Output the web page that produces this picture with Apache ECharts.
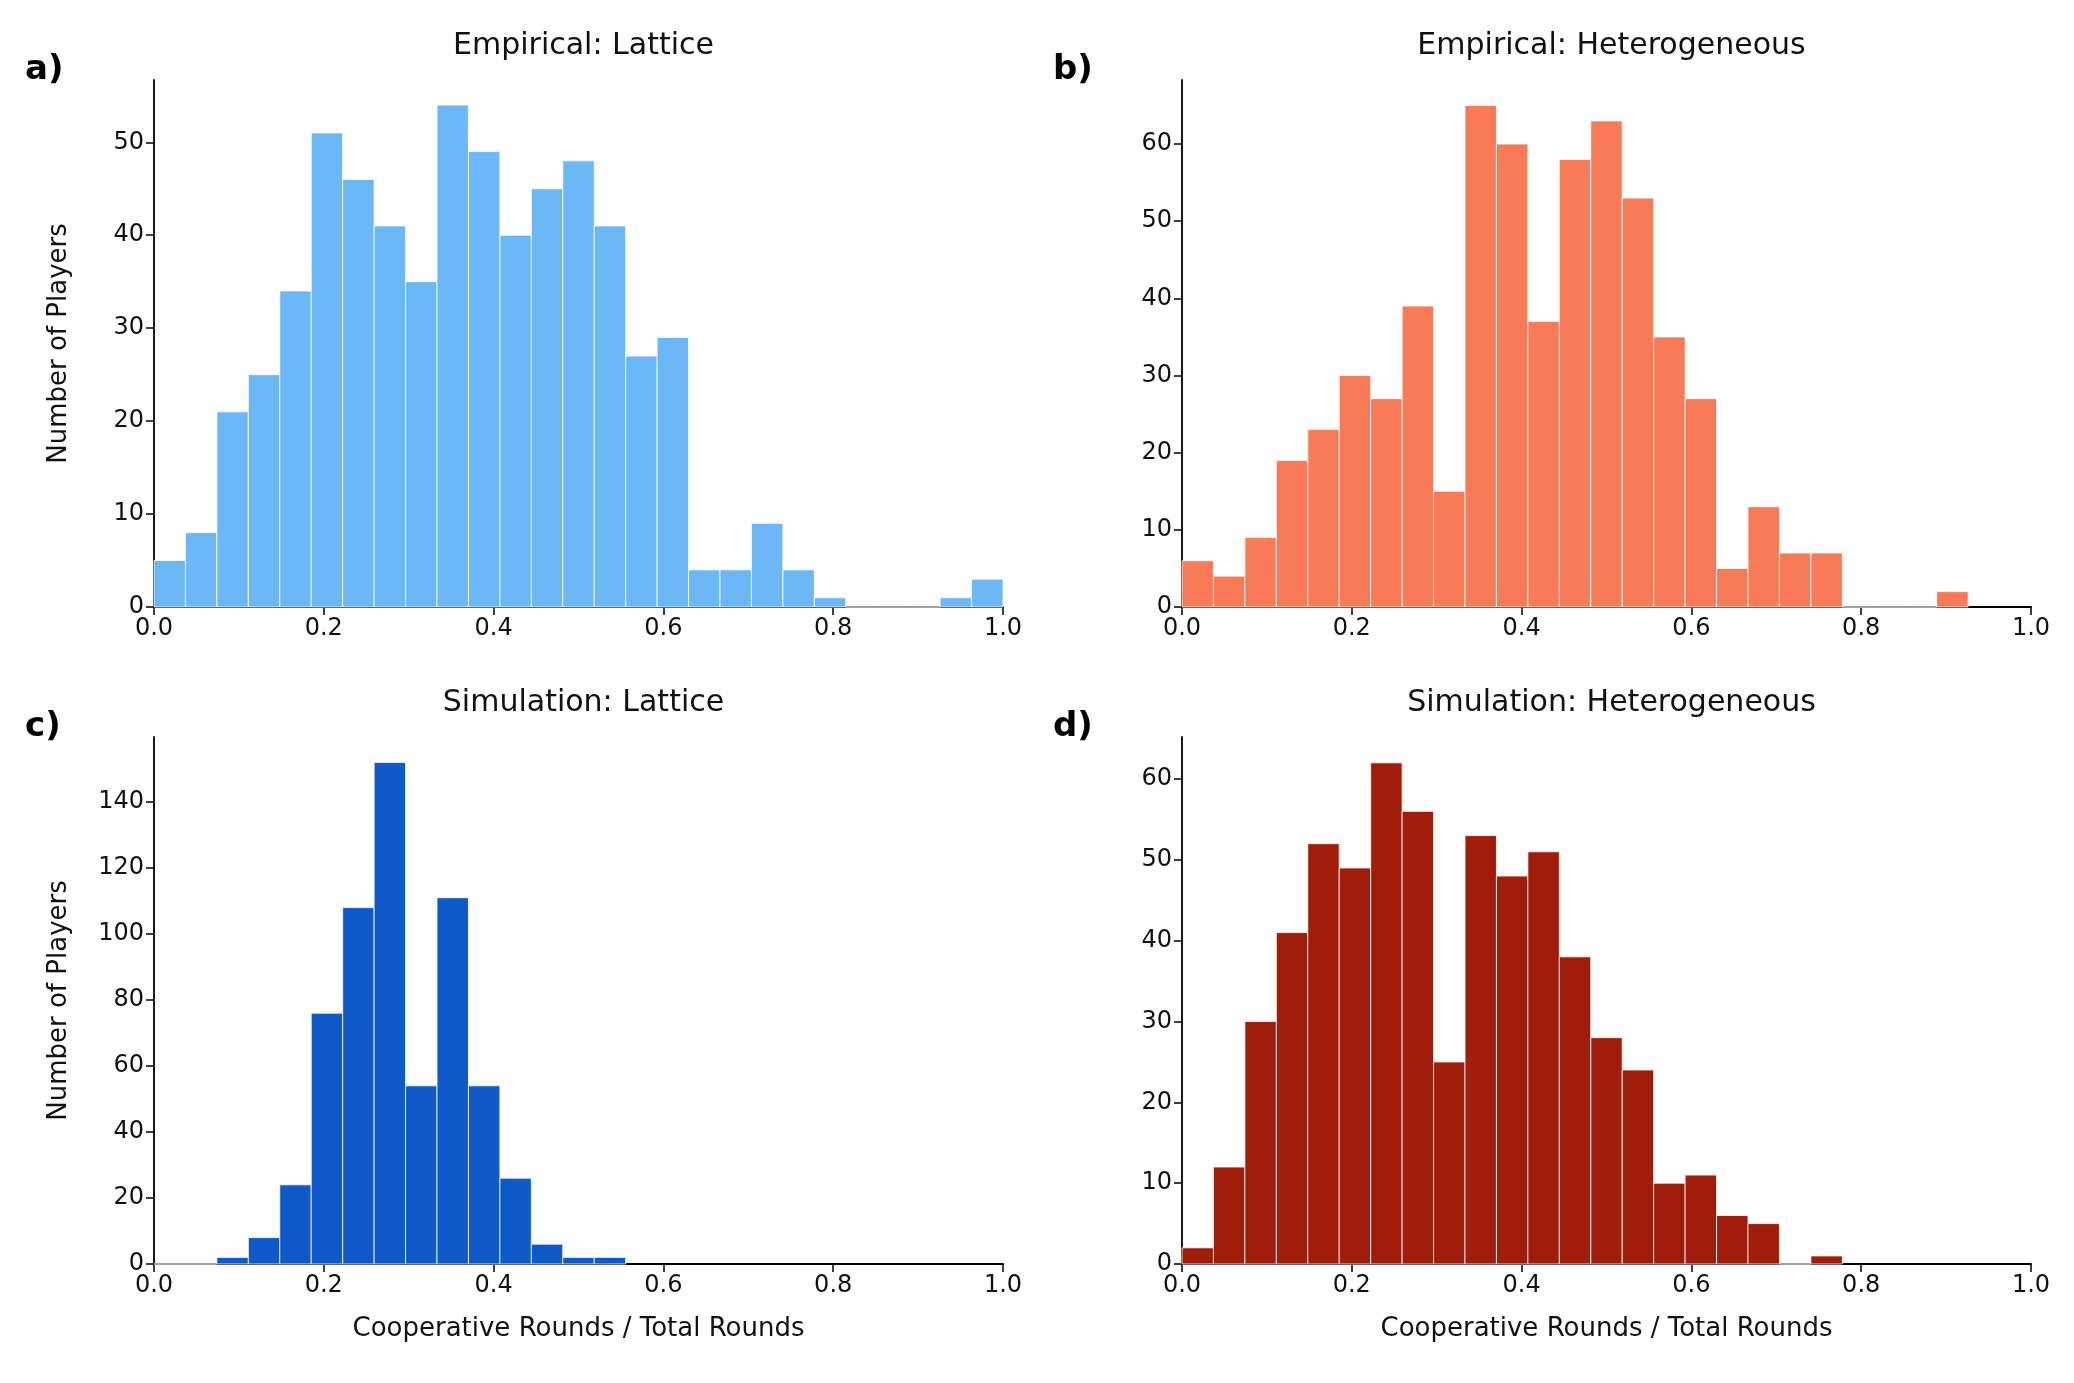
<!DOCTYPE html>
<html><head><meta charset="utf-8">
<script src="https://cdn.jsdelivr.net/npm/echarts@6/dist/echarts.min.js"></script>
<style>html,body{margin:0;background:#fff}#c{width:2074px;height:1383px}</style>
</head><body><div id="c"></div>
<script>
var binWidth = 1 / 27;
var latticeEmp = [5,8,21,25,34,51,46,41,35,54,49,40,45,48,41,27,29,4,4,9,4,1,0,0,0,1,3];
var heteroEmp = [6,4,9,19,23,30,27,39,15,65,60,37,58,63,53,35,27,5,13,7,7,0,0,0,2];
var latticeSim = [0,0,2,8,24,76,108,152,54,111,54,26,6,2,2];
var heteroSim = [2,12,30,41,52,49,62,56,25,53,48,51,38,28,24,10,11,6,5,0,1];
var xTicks = [0, 0.2, 0.4, 0.6, 0.8, 1.0];

var panels = [
  {data: latticeEmp, title: 'Empirical: Lattice', letter: 'a)', color: '#6cb8f7', ymax: 56.7, step: 10, left: 154, top: 80, ylab: true, xlab: false},
  {data: heteroEmp, title: 'Empirical: Heterogeneous', letter: 'b)', color: '#f97a56', ymax: 68.3, step: 10, left: 1182, top: 80, ylab: false, xlab: false},
  {data: latticeSim, title: 'Simulation: Lattice', letter: 'c)', color: '#0f5ac8', ymax: 159.7, step: 20, left: 154, top: 737, ylab: true, xlab: true},
  {data: heteroSim, title: 'Simulation: Heterogeneous', letter: 'd)', color: '#a11d0b', ymax: 65.2, step: 10, left: 1182, top: 737, ylab: false, xlab: true}
];
var W = 849, H = 527;
var font = 'DejaVu Sans';

var grids = [], xAxes = [], yAxes = [], series = [], titles = [];
panels.forEach(function (p, i) {
  grids.push({left: p.left, top: p.top, width: W, height: H});
  xAxes.push({
    type: 'value', gridIndex: i, min: 0, max: 1, interval: 0.2,
    name: p.xlab ? 'Cooperative Rounds / Total Rounds' : '', nameLocation: 'middle', nameGap: 52,
    nameTextStyle: {fontFamily: font, fontSize: 26, color: '#111'},
    axisLine: {lineStyle: {color: '#000', width: 1.8}},
    axisTick: {length: 8, lineStyle: {color: '#000', width: 1.5}},
    axisLabel: {fontFamily: font, fontSize: 24, color: '#111', margin: 10, formatter: function (v) { return v.toFixed(1); }},
    splitLine: {show: false}
  });
  yAxes.push({
    type: 'value', gridIndex: i, min: 0, max: p.ymax, interval: p.step,
    name: p.ylab ? 'Number of Players' : '', nameLocation: 'middle', nameGap: 82,
    nameTextStyle: {fontFamily: font, fontSize: 26, color: '#111'},
    axisLine: {show: true, lineStyle: {color: '#000', width: 1.8}},
    axisTick: {show: true, length: 8, lineStyle: {color: '#000', width: 1.5}},
    axisLabel: {fontFamily: font, fontSize: 24, color: '#111', margin: 10, showMaxLabel: false},
    splitLine: {show: false}
  });
  series.push({
    type: 'custom', xAxisIndex: i, yAxisIndex: i,
    data: p.data.map(function (v, k) { return [k * binWidth, v]; }),
    renderItem: function (params, api) {
      var x0 = api.value(0), v = api.value(1);
      var a = api.coord([x0, v]), b = api.coord([x0 + binWidth, 0]);
      return {type: 'rect', shape: {x: a[0], y: a[1], width: b[0] - a[0], height: b[1] - a[1]},
        style: {fill: p.color, stroke: '#ffffff', lineWidth: 0.8}};
    }
  });
  titles.push({text: p.title, left: p.left + W / 2, top: p.top - 54, textAlign: 'center',
    textStyle: {fontFamily: font, fontSize: 30, fontWeight: 'normal', color: '#111'}});
  titles.push({text: p.letter, left: p.left - 134, top: p.top - 32,
    textStyle: {fontFamily: font, fontSize: 34, fontWeight: 'bold', color: '#000'}});
});

var chart = echarts.init(document.getElementById('c'));
chart.setOption({
  backgroundColor: '#fff', animation: false,
  title: titles, grid: grids, xAxis: xAxes, yAxis: yAxes, series: series
});
</script></body></html>
